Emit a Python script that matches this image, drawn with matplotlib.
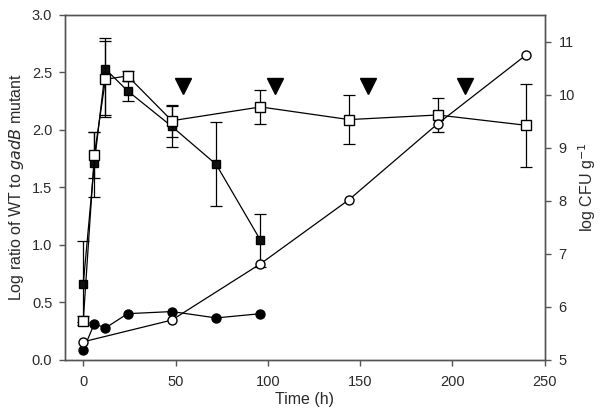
import matplotlib
matplotlib.use("Agg")
import matplotlib.pyplot as plt

plt.rcParams['font.family'] = ['Liberation Sans', 'DejaVu Sans']

# Filled squares: log ratio WT / gadB (left axis)
t_fsq = [0, 6, 12, 24, 48, 72, 96]
fsq = [0.66, 1.71, 2.53, 2.34, 2.03, 1.70, 1.04]
fsq_lo = [0.33, 0.29, 0.40, 0.09, 0.18, 0.36, 0.23]
fsq_hi = [0.37, 0.27, 0.27, 0.09, 0.18, 0.37, 0.23]

# Open squares (left axis)
t_osq = [0, 6, 12, 24, 48, 96, 144, 192, 240]
osq = [0.34, 1.78, 2.44, 2.47, 2.08, 2.20, 2.09, 2.13, 2.04]
osq_err = [0.04, 0.20, 0.33, 0.04, 0.14, 0.15, 0.21, 0.15, 0.36]

# Filled circles: log CFU g-1 (right axis)
t_fci = [0, 6, 12, 24, 48, 72, 96]
fci = [5.19, 5.68, 5.60, 5.87, 5.91, 5.79, 5.87]

# Open circles: log CFU g-1 (right axis)
t_oci = [0, 48, 96, 144, 192, 240]
oci = [5.34, 5.75, 6.81, 8.02, 9.45, 10.75]

# Arrowheads (left axis)
t_tri = [54, 104, 154, 207]
tri = [2.38, 2.38, 2.38, 2.38]

xticks = [0, 50, 100, 150, 200, 250]
yticks_left = [0.0, 0.5, 1.0, 1.5, 2.0, 2.5, 3.0]
yticks_right = [5, 6, 7, 8, 9, 10, 11]

fig = plt.figure(figsize=(6.0, 4.16), dpi=100)
ax = fig.add_axes([0.108, 0.135, 0.800, 0.829])
ax2 = ax.twinx()

spc = '#555555'
txt = '#2a2a2a'
for a in (ax, ax2):
    for s in a.spines.values():
        s.set_color(spc)
        s.set_linewidth(1.0)
    a.tick_params(direction='out', length=4, width=1.0, color=spc, labelsize=10.5,
                  colors=txt, pad=5)
ax.tick_params(axis='x', pad=7)
ax2.tick_params(axis='y', pad=6)

ax.errorbar(t_fsq, fsq, yerr=[fsq_lo, fsq_hi], fmt='s-', color='black', mfc='#111111', mec='black',
            ms=6, lw=0.9, elinewidth=0.9, capsize=4, capthick=0.9, zorder=3)
ax.errorbar(t_osq, osq, yerr=osq_err, fmt='s-', color='black', mfc='white', mec='black',
            ms=6.5, lw=0.9, elinewidth=0.9, capsize=4, capthick=0.9, zorder=4)
ax.plot(t_tri, tri, 'v', color='black', ms=12, zorder=5, ls='none')

ax2.plot(t_fci, fci, 'o-', color='black', mfc='black', ms=6.5, lw=0.9, zorder=3)
ax2.plot(t_oci, oci, 'o-', color='black', mfc='white', ms=6.5, lw=0.9, zorder=3)

ax.set_xlim(-10, 250)
ax.set_ylim(0, 3.0)
ax2.set_ylim(5, 11.5)
ax.set_xticks(xticks)
ax.set_yticks(yticks_left)
ax.set_yticklabels([f'{v:.1f}' for v in yticks_left])
ax2.set_yticks(yticks_right)

ax.set_xlabel('Time (h)', fontsize=11.5, color=txt, labelpad=2)
ax.set_ylabel('Log ratio of WT to $\\it{gadB}$ mutant', fontsize=11.5, color=txt, labelpad=4)
ax2.set_ylabel('log CFU g$^{-1}$', fontsize=11.5, color=txt, labelpad=1)

fig.savefig('out.png', dpi=100)
